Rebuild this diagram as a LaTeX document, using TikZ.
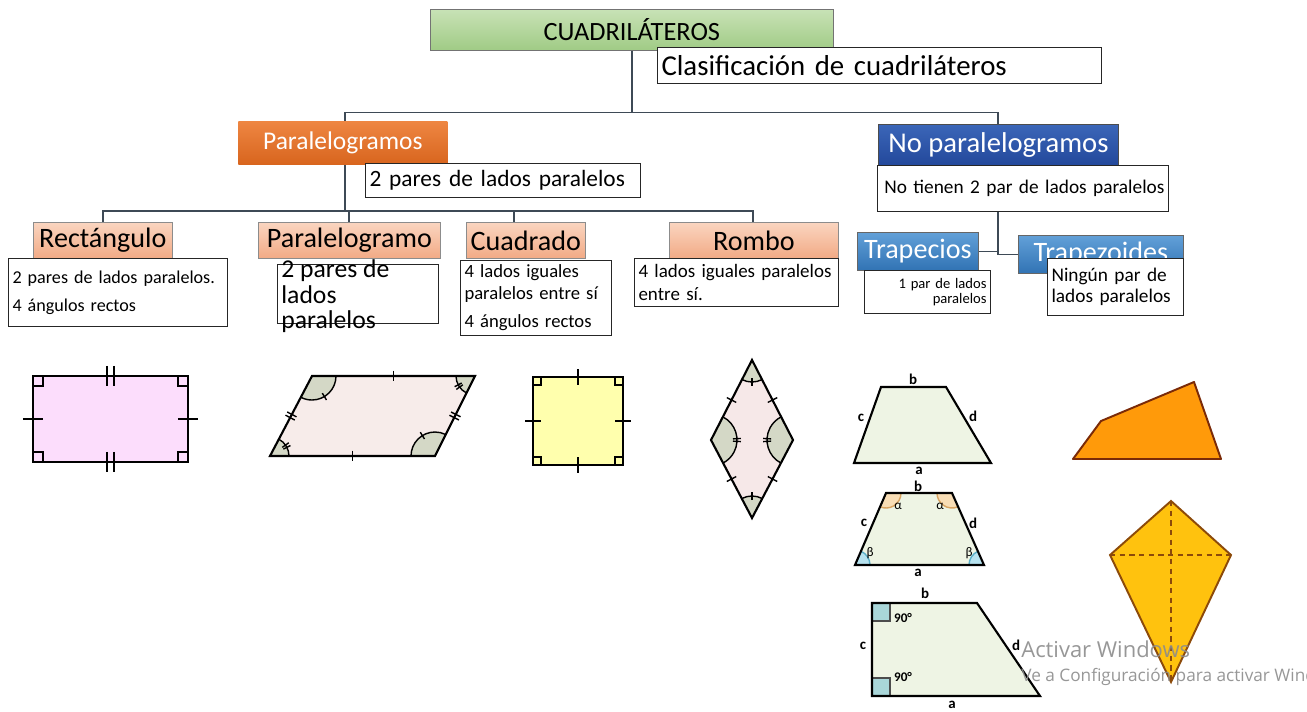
\documentclass[tikz,border=0pt]{standalone}
\usepackage{fontspec}
\setmainfont{Carlito}
\newfontfamily\wmfont{Open Sans}
\usetikzlibrary{calc}

\definecolor{cuadtop}{HTML}{C8E2B6}
\definecolor{cuadbot}{HTML}{A0CB85}
\definecolor{orangetop}{HTML}{EE8642}
\definecolor{orangebot}{HTML}{D8651E}
\definecolor{salmontop}{HTML}{FAD5C0}
\definecolor{salmonbot}{HTML}{F2AA85}
\definecolor{navytop}{HTML}{3B66B8}
\definecolor{navybot}{HTML}{23489B}
\definecolor{bluetop}{HTML}{62A0D8}
\definecolor{bluebot}{HTML}{3173B4}
\definecolor{rectpink}{HTML}{FCDDFC}
\definecolor{pgrampink}{HTML}{F7ECEA}
\definecolor{anglegray}{HTML}{D4D8C6}
\definecolor{sqyellow}{HTML}{FFFFAD}
\definecolor{rombopink}{HTML}{F6E8E8}
\definecolor{trapgreen}{HTML}{EEF4E4}
\definecolor{alphatan}{HTML}{F8DDB5}
\definecolor{alphaline}{HTML}{D9A462}
\definecolor{betablue}{HTML}{B6E2EF}
\definecolor{betaline}{HTML}{5AAFC8}
\definecolor{rtblue}{HTML}{A9D6D9}
\definecolor{trzorange}{HTML}{FF9A0A}
\definecolor{trzline}{HTML}{7A2A08}
\definecolor{kiteyellow}{HTML}{FFC20E}
\definecolor{kiteline}{HTML}{8C4A0A}
\definecolor{branchgray}{HTML}{3E4A56}

\tikzset{
  boxsize/.style 2 args={minimum width=#1*0.02cm, minimum height=#2*0.02cm},
  headbox/.style={draw=black!45, line width=0.4pt, inner sep=0pt, anchor=north west,
    font=\fontsize{16}{19}\selectfont},
  descbox/.style={draw=black!85, fill=white, line width=0.6pt, inner xsep=0.08cm,
    inner ysep=0pt, anchor=north west, align=left},
  branch/.style={draw=branchgray, line width=0.85pt},
  figline/.style={line width=1.2pt, line join=miter},
  tickline/.style={line width=0.8pt},
  arcline/.style={line width=0.8pt},
  letter/.style={inner sep=0pt, font=\bfseries\fontsize{8.5}{10}\selectfont},
  greek/.style={inner sep=0pt, font=\fontsize{7.5}{8}\selectfont},
}

% tick across a side, at a fraction of its length
\newcommand{\sidetick}[4][3pt]{%
  \draw[tickline] ($(#2)!#4!(#3)!#1!90:(#3)$) -- ($(#2)!#4!(#3)!#1!-90:(#3)$);}
% filled angle sector: vertex, from, to, radius, fill
\newcommand{\anglemark}[6][black]{%
  \fill[#6] (#2) -- ++(#3:#5) arc[start angle=#3, end angle=#4, radius=#5] -- cycle;
  \draw[arcline, #1] (#2) ++(#3:#5) arc[start angle=#3, end angle=#4, radius=#5];}
% tick across an angle arc
\newcommand{\arctick}[3]{%
  \draw[tickline] ($(#1)+(#2:#3-4)$) -- ($(#1)+(#2:#3+4)$);}

\begin{document}
\begin{tikzpicture}[x=0.02cm, y=-0.02cm]
  % Page
  \fill[white] (0,0) rectangle (1307,711);
  \useasboundingbox (0,0) rectangle (1307,711);

  % Title
  \node[headbox, boxsize={403}{41}, top color=cuadtop, bottom color=cuadbot,
    draw=black!55, font=\fontsize{15}{18}\selectfont] (cuad) at (430,9) {CUADRILÁTEROS};

  % Branches
  \coordinate (split) at ($(cuad.south)+(0,62)$);
  \coordinate (psplit) at (345,211);
  \coordinate (nsplit) at (998,251);
  \draw[branch] (cuad.south) -- (split);
  \draw[branch] (split) -| (345,121);
  \draw[branch] (split) -| (998,124);
  \draw[branch] (345,164) -- (psplit);
  \draw[branch] (103,222) |- (psplit) -| (753,222);
  \draw[branch] (349,222) -- (349,211);
  \draw[branch] (514,222) -- (514,211);

  \node[descbox, text width=8.72cm, minimum height=0.72cm,
    font=\fontsize{16.4}{19}\selectfont] (clasif) at (657,47) {Clasificación de cuadriláteros};

  % Paralelogramos
  \node[headbox, boxsize={209}{43}, top color=orangetop, bottom color=orangebot,
    draw=none, text=white, font=\fontsize{14.5}{17}\selectfont] (paral) at (238,121) {Paralelogramos};
  \node[descbox, text width=5.34cm, minimum height=0.68cm,
    font=\fontsize{13.3}{16}\selectfont] (paraldesc) at (365,163) {2 pares de lados paralelos};

  \node[headbox, boxsize={139}{36}, top color=salmontop, bottom color=salmonbot] (rect) at (33,222) {Rectángulo};
  \node[descbox, text width=4.22cm, minimum height=1.36cm,
    font=\fontsize{10.3}{15.9}\selectfont] (rectdesc) at (8,258) {2 pares de lados paralelos.\\4 ángulos rectos};

  \node[headbox, boxsize={182}{36}, top color=salmontop, bottom color=salmonbot] (pgram) at (258,222) {Paralelogramo};
  \node[descbox, minimum width=3.22cm, minimum height=1.18cm] (pgramdesc) at (277,264) {};
  \node[anchor=north west, inner sep=0pt, align=left,
    font=\fontsize{14.6}{14.7}\selectfont] (pgramtext) at (281,259) {2 pares de\\lados\\paralelos};

  \node[headbox, boxsize={119}{36}, top color=salmontop, bottom color=salmonbot] (cuadro) at (466,222) {Cuadrado};
  \node[descbox, text width=2.86cm, minimum height=1.5cm,
    font=\fontsize{10.6}{12.5}\selectfont] (cuadrodesc) at (460,260) {4 lados iguales\\paralelos entre sí\\[3.4pt]4 ángulos rectos};

  \node[headbox, boxsize={169}{36}, top color=salmontop, bottom color=salmonbot] (rombo) at (669,222) {Rombo};
  \node[descbox, text width=3.92cm, minimum height=0.96cm,
    font=\fontsize{10.8}{13}\selectfont] (rombodesc) at (634,258) {4 lados iguales paralelos\\entre sí.};

  % No paralelogramos
  \node[headbox, boxsize={240}{41}, top color=navytop, bottom color=navybot,
    draw=black!70, text=white, font=\fontsize{16.3}{19}\selectfont] (nopar) at (878,124) {No paralelogramos};
  \node[descbox, align=right, text width=5.66cm, minimum height=0.92cm,
    font=\fontsize{11}{13}\selectfont] (nopardesc) at (877,165) {No tienen 2 par de lados paralelos};

  \draw[branch] (nopardesc.south -| nsplit) -- (nsplit);
  \node[headbox, boxsize={121}{38}, top color=bluetop, bottom color=bluebot,
    draw=black!60, text=white] (trap) at (857,232) {Trapecios};
  \node[descbox, align=right, text width=2.36cm, minimum height=0.86cm,
    font=\fontsize{8.3}{9}\selectfont] (trapdesc) at (864,270) {1 par de lados\\paralelos};
  \node[headbox, boxsize={165}{38}, top color=bluetop, bottom color=bluebot,
    draw=black!60, text=white] (trapz) at (1018,235) {Trapezoides};
  \draw[branch] (trap.east) -- (trap.east -| nsplit) |- (trapz.west);
  \node[descbox, text width=2.56cm, minimum height=1.14cm,
    font=\fontsize{11}{11.9}\selectfont] (trapzdesc) at (1047,258) {Ningún par de\\lados paralelos};

  % Rectangle
  \coordinate (ra) at (33,376);
  \coordinate (rb) at (188,376);
  \coordinate (rc) at (188,462);
  \coordinate (rd) at (33,462);
  \fill[rectpink] (ra) rectangle (rc);
  \foreach \c/\sx/\sy in {ra/1/1,rb/-1/1,rc/-1/-1,rd/1/-1}
    \draw[tickline] (\c) ++(0,10*\sy) -| ++(10*\sx,-10*\sy);
  \draw[figline] (ra)--(rb)--(rc)--(rd)--cycle;
  \sidetick[5.7pt]{ra}{rb}{0.477} \sidetick[5.7pt]{ra}{rb}{0.523}
  \sidetick[5.7pt]{rd}{rc}{0.477} \sidetick[5.7pt]{rd}{rc}{0.523}
  \sidetick[5.7pt]{rd}{ra}{0.5} \sidetick[5.7pt]{rc}{rb}{0.5}

  % Parallelogram
  \coordinate (pa) at (312,376);
  \coordinate (pb) at (475,376);
  \coordinate (pc) at (435,456);
  \coordinate (pd) at (270,456);
  \fill[pgrampink] (pa)--(pb)--(pc)--(pd)--cycle;
  \anglemark{pa}{0}{117.7}{24}{anglegray}
  \anglemark{pb}{116.6}{180}{19}{anglegray}
  \anglemark{pc}{180}{296.6}{24}{anglegray}
  \anglemark{pd}{297.7}{360}{19}{anglegray}
  \arctick{pa}{58.9}{24} \arctick{pc}{238.3}{24}
  \arctick{pb}{144.3}{19} \arctick{pb}{152.3}{19}
  \arctick{pd}{324.8}{19} \arctick{pd}{332.8}{19}
  \draw[figline] (pa)--(pb)--(pc)--(pd)--cycle;
  \sidetick{pa}{pb}{0.5} \sidetick{pd}{pc}{0.5}
  \sidetick{pd}{pa}{0.48} \sidetick{pd}{pa}{0.52}
  \sidetick{pc}{pb}{0.48} \sidetick{pc}{pb}{0.52}

  % Square
  \coordinate (sa) at (533,377);
  \coordinate (sb) at (623,377);
  \coordinate (sc) at (623,465);
  \coordinate (sd) at (533,465);
  \fill[sqyellow] (sa) rectangle (sc);
  \foreach \c/\sx/\sy in {sa/1/1,sb/-1/1,sc/-1/-1,sd/1/-1}
    \draw[tickline] (\c) ++(0,8*\sy) -| ++(8*\sx,-8*\sy);
  \draw[figline] (sa)--(sb)--(sc)--(sd)--cycle;
  \sidetick[4.5pt]{sa}{sb}{0.5} \sidetick[4.5pt]{sb}{sc}{0.5}
  \sidetick[4.5pt]{sc}{sd}{0.5} \sidetick[4.5pt]{sd}{sa}{0.5}

  % Rhombus
  \coordinate (ha) at (752,360);
  \coordinate (hb) at (793,440);
  \coordinate (hc) at (752,518);
  \coordinate (hd) at (711,440);
  \fill[rombopink] (ha)--(hb)--(hc)--(hd)--cycle;
  \anglemark{ha}{62.9}{117.1}{22}{anglegray}
  \anglemark{hc}{242.3}{297.7}{22}{anglegray}
  \anglemark{hd}{-62.9}{62.3}{26}{anglegray}
  \anglemark{hb}{117.7}{242.9}{26}{anglegray}
  \arctick{ha}{90}{22} \arctick{hc}{270}{22}
  \arctick{hd}{-3}{26} \arctick{hd}{3}{26}
  \arctick{hb}{177}{26} \arctick{hb}{183}{26}
  \draw[figline] (ha)--(hb)--(hc)--(hd)--cycle;
  \sidetick{ha}{hb}{0.5} \sidetick{hb}{hc}{0.5}
  \sidetick{hc}{hd}{0.5} \sidetick{hd}{ha}{0.5}

  % Trapezoid (isosceles)
  \coordinate (ta) at (881,387);
  \coordinate (tb) at (946,387);
  \coordinate (tc) at (991,463);
  \coordinate (td) at (854,463);
  \filldraw[fill=trapgreen, figline] (ta)--(tb)--(tc)--(td)--cycle;
  \node[letter] (tlb) at (913,379) {b};
  \node[letter] (tla) at (919,471) {a};
  \node[letter] (tlc) at (861,418) {c};
  \node[letter] (tld) at (973,416) {d};

  % Trapezoid (angles)
  \coordinate (ua) at (886,493);
  \coordinate (ub) at (952,493);
  \coordinate (uc) at (984,565);
  \coordinate (ud) at (855,565);
  \fill[trapgreen] (ua)--(ub)--(uc)--(ud)--cycle;
  \anglemark[alphaline]{ua}{0}{113.3}{15}{alphatan}
  \anglemark[alphaline]{ub}{66}{180}{15}{alphatan}
  \anglemark[betaline]{ud}{293.3}{360}{15}{betablue}
  \anglemark[betaline]{uc}{180}{246}{15}{betablue}
  \draw[figline] (ua)--(ub)--(uc)--(ud)--cycle;
  \node[letter] (ulb) at (918,486) {b};
  \node[letter] (ula) at (918,573) {a};
  \node[letter] (ulc) at (864,523) {c};
  \node[letter] (uld) at (973,523) {d};
  \node[greek] (ual1) at (898,506) {α};
  \node[greek] (ual2) at (940,506) {α};
  \node[greek] (ube1) at (870,553) {β};
  \node[greek] (ube2) at (969,553) {β};

  % Trapezoid (right)
  \coordinate (va) at (872,603);
  \coordinate (vb) at (977,603);
  \coordinate (vc) at (1040,696);
  \coordinate (vd) at (872,696);
  \fill[trapgreen] (va)--(vb)--(vc)--(vd)--cycle;
  \filldraw[fill=rtblue, draw=black!70, line width=0.6pt] (va) rectangle ++(18,18);
  \filldraw[fill=rtblue, draw=black!70, line width=0.6pt] (vd) rectangle ++(18,-18);
  \draw[figline] (va)--(vb)--(vc)--(vd)--cycle;
  \node[letter] (vlb) at (925,593) {b};
  \node[letter] (vla) at (952,705) {a};
  \node[letter] (vlc) at (863,646) {c};
  \node[letter] (vld) at (1016,645) {d};
  \node[letter, font=\bfseries\fontsize{7.5}{9}\selectfont] (vr1) at (903,618) {90°};
  \node[letter, font=\bfseries\fontsize{7.5}{9}\selectfont] (vr2) at (903,677) {90°};

  % Trapezoid (irregular)
  \coordinate (wa) at (1073,459);
  \coordinate (wb) at (1101,421);
  \coordinate (wc) at (1194,382);
  \coordinate (wd) at (1221,459);
  \filldraw[fill=trzorange, draw=trzline, line width=1.1pt, line join=round] (wa)--(wb)--(wc)--(wd)--cycle;

  % Kite
  \coordinate (ka) at (1171,501);
  \coordinate (kb) at (1231,555);
  \coordinate (kc) at (1171,682);
  \coordinate (kd) at (1110,555);
  \filldraw[fill=kiteyellow, draw=kiteline, line width=1.1pt] (ka)--(kb)--(kc)--(kd)--cycle;
  \draw[kiteline, line width=1.1pt, dash pattern=on 3pt off 2.5pt] (kd)--(kb) (ka)--(kc);

  % Watermark
  \node[anchor=base west, inner sep=0pt, text=black!45, opacity=0.9,
    font=\wmfont\fontsize{12.5}{14}\selectfont] (wm1) at (1021,657) {Activar Windows};
  \node[anchor=base west, inner sep=0pt, text=black!45, opacity=0.9,
    font=\wmfont\fontsize{9.8}{12}\selectfont] (wm2) at (1021,681) {Ve a Configuración para activar Windows.};
\end{tikzpicture}
\end{document}
